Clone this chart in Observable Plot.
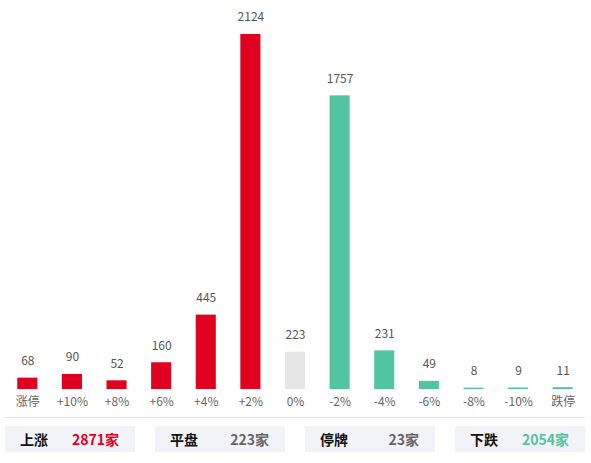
<!DOCTYPE html>
<html>
<head>
<meta charset="utf-8">
<script src="https://cdn.jsdelivr.net/npm/d3@7"></script>
<script src="https://cdn.jsdelivr.net/npm/@observablehq/plot@0.6"></script>
<style>
  html, body { margin: 0; padding: 0; background: #fff; }
  body { width: 591px; height: 463px; position: relative; overflow: hidden;
         font-family: "Noto Sans CJK SC", "Noto Sans", sans-serif; }
  #chart { position: absolute; left: 0; top: 0; }
  #sep { position: absolute; left: 5px; width: 580px; top: 417px; height: 1px; background: #e6e6e6; }
  .box { position: absolute; top: 426px; width: 130px; height: 26px; background: #f2f3f8;
         display: flex; align-items: center; justify-content: space-between;
         box-sizing: border-box; padding: 0 16px 0 15px; font-size: 14px; font-weight: bold; }
  .box .lab { color: #111; }
</style>
</head>
<body>
<div id="chart"></div>
<div id="sep"></div>
<div id="legend"></div>
<script>
const categories = ["涨停", "+10%", "+8%", "+6%", "+4%", "+2%", "0%", "-2%", "-4%", "-6%", "-8%", "-10%", "跌停"];
const counts = [68, 90, 52, 160, 445, 2124, 223, 1757, 231, 49, 8, 9, 11];
const summaryLabels = ["上涨", "平盘", "停牌", "下跌"];
const summaryValues = [2871, 223, 23, 2054];

const RED = "#e00020", GRAY = "#e6e6e6", GREEN = "#52c4a0";
const colorOf = (c) => c === "0%" ? GRAY : (c.startsWith("+") || c === "涨停") ? RED : GREEN;

const data = categories.map((c, i) => ({cat: c, value: counts[i]}));

const chart = Plot.plot({
  width: 591,
  height: 412,
  marginTop: 34,
  marginBottom: 23,
  marginLeft: 5,
  marginRight: 6,
  style: {fontFamily: '"Noto Sans CJK SC", "Noto Sans", sans-serif', background: "transparent"},
  x: {domain: categories, paddingInner: 0.55, paddingOuter: 0.275, round: false, label: null},
  y: {domain: [0, d3.max(counts)], axis: null},
  marks: [
    Plot.barY(data, {x: "cat", y: "value", fill: d => colorOf(d.cat)}),
    Plot.text(data, {x: "cat", y: "value", text: d => String(d.value), dy: -17, fontSize: 12, fill: "#555"}),
    Plot.axisX({tickSize: 0, tickPadding: 8, fontSize: 12, color: "#666", label: null})
  ]
});
document.getElementById("chart").appendChild(chart);

const valueColors = [RED, "#666", "#666", GREEN];
const legend = document.getElementById("legend");
summaryLabels.forEach((l, i) => {
  const b = document.createElement("div");
  b.className = "box";
  b.style.left = (5 + i * 150) + "px";
  b.innerHTML = `<span class="lab">${l}</span><span style="color:${valueColors[i]}">${summaryValues[i]}家</span>`;
  legend.appendChild(b);
});
</script>
</body>
</html>
